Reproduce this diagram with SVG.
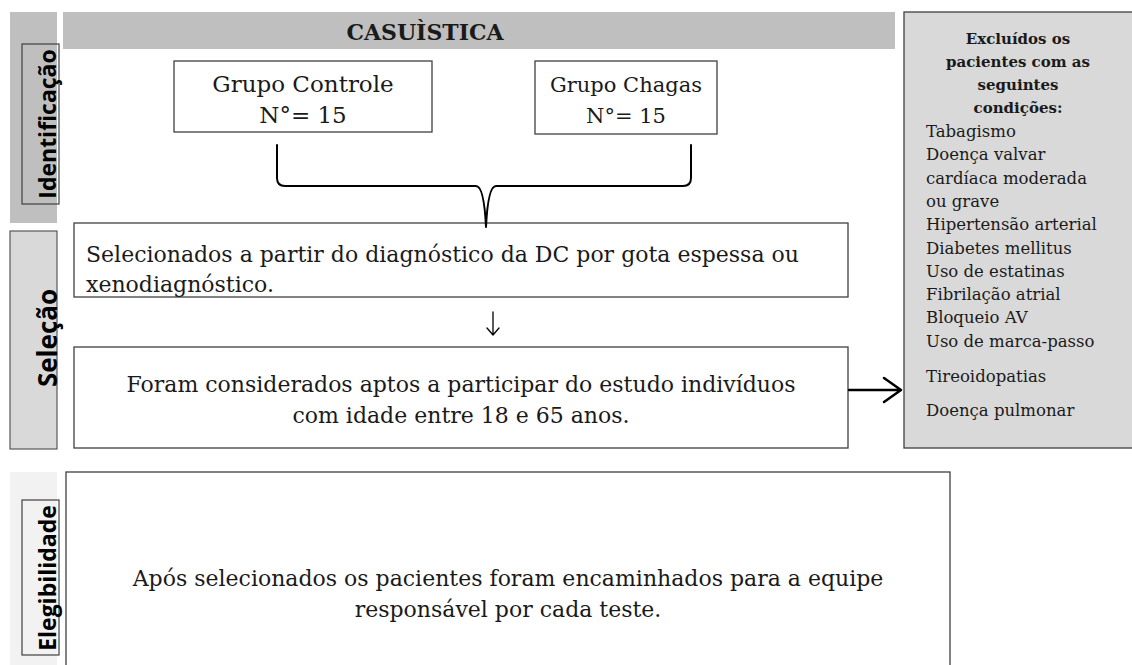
<svg xmlns="http://www.w3.org/2000/svg" width="1132" height="665" viewBox="0 0 1132 665">
<style>
.box{fill:#ffffff;stroke:#404040;stroke-width:1.3}
.t{font-family:"DejaVu Serif","Liberation Serif",serif;font-size:22px;fill:#1a1a1a}
.g{font-family:"DejaVu Serif","Liberation Serif",serif;font-size:23px;fill:#1a1a1a;text-anchor:middle}
.side{font-family:"Open Sans","DejaVu Sans",sans-serif;font-weight:bold;font-size:23px;fill:#000;text-anchor:middle}
.ex{font-family:"DejaVu Serif","Liberation Serif",serif;font-size:16.5px;fill:#1a1a1a}
.exb{font-family:"DejaVu Serif","Liberation Serif",serif;font-size:15px;font-weight:bold;fill:#1a1a1a;text-anchor:middle}
.frame{fill:none;stroke:#404040;stroke-width:1.2}
.con{fill:none;stroke:#000;stroke-linecap:round;stroke-linejoin:round}
</style>
<rect width="1132" height="665" fill="#ffffff"/>

<g id="lane-identificacao">
<rect x="10" y="12" width="47" height="211" fill="#bfbfbf"/>
<rect class="frame" x="22" y="44" width="37" height="160"/>
<text class="side" transform="translate(56,124) rotate(-90)">Identificação</text>
</g>

<g id="lane-selecao">
<rect x="10" y="231" width="47" height="218" fill="#d9d9d9" stroke="#595959" stroke-width="1.2"/>
<text class="side" style="font-size:26px" transform="translate(57,338) rotate(-90)">Seleção</text>
</g>

<g id="lane-elegibilidade">
<rect x="10" y="472" width="47" height="193" fill="#f2f2f2"/>
<rect class="frame" x="22" y="500" width="37" height="155"/>
<text class="side" transform="translate(56,578) rotate(-90)">Elegibilidade</text>
</g>

<g id="header">
<rect x="63" y="12" width="832" height="37" fill="#bfbfbf"/>
<text x="425" y="40" style="font-family:'DejaVu Serif','Liberation Serif',serif;font-weight:bold;font-size:22px;fill:#1a1a1a;text-anchor:middle">CASUÌSTICA</text>
</g>

<g id="grupo-controle">
<rect class="box" x="174" y="61" width="258" height="71"/>
<text class="g" x="303" y="92">Grupo Controle</text>
<text class="g" x="303" y="123">N°= 15</text>
</g>

<g id="grupo-chagas">
<rect class="box" x="535" y="61" width="182" height="73"/>
<text class="g" style="font-size:21px" x="626" y="92">Grupo Chagas</text>
<text class="g" style="font-size:21px" x="626" y="123">N°= 15</text>
</g>

<g id="selecionados">
<rect class="box" x="74" y="223" width="774" height="74"/>
<text class="t" x="86" y="262">Selecionados a partir do diagnóstico da DC por gota espessa ou</text>
<text class="t" x="86" y="292">xenodiagnóstico.</text>
</g>

<g id="aptos">
<rect class="box" x="74" y="347" width="774" height="101"/>
<text class="t" x="461" y="392" text-anchor="middle">Foram considerados aptos a participar do estudo indivíduos</text>
<text class="t" x="461" y="423" text-anchor="middle">com idade entre 18 e 65 anos.</text>
</g>

<g id="excluidos">
<rect x="904" y="12" width="240" height="436" fill="#d9d9d9" stroke="#404040" stroke-width="1.3"/>
<text class="exb" x="1018" y="44">Excluídos os</text>
<text class="exb" x="1018" y="67">pacientes com as</text>
<text class="exb" x="1018" y="90">seguintes</text>
<text class="exb" x="1018" y="113">condições:</text>
<text class="ex" x="926" y="137">Tabagismo</text>
<text class="ex" x="926" y="160">Doença valvar</text>
<text class="ex" x="926" y="184">cardíaca moderada</text>
<text class="ex" x="926" y="207">ou grave</text>
<text class="ex" x="926" y="230">Hipertensão arterial</text>
<text class="ex" x="926" y="254">Diabetes mellitus</text>
<text class="ex" x="926" y="277">Uso de estatinas</text>
<text class="ex" x="926" y="300">Fibrilação atrial</text>
<text class="ex" x="926" y="323">Bloqueio  AV</text>
<text class="ex" x="926" y="347">Uso de marca-passo</text>
<text class="ex" x="926" y="382">Tireoidopatias</text>
<text class="ex" x="926" y="416">Doença pulmonar</text>
</g>

<g id="elegibilidade-box">
<rect class="box" x="66" y="472" width="884" height="200"/>
<text class="t" x="508" y="586" text-anchor="middle">Após selecionados os pacientes foram encaminhados para a equipe</text>
<text class="t" x="508" y="617" text-anchor="middle">responsável por cada teste.</text>
</g>

<g id="connectors">
<path class="con" stroke-width="2" d="M277,145 L277,178 Q277,186 285,186 L476,186 Q484,186 486,227 Q488,186 496,186 L683,186 Q691,186 691,178 L691,145"/>
<path class="con" stroke-width="1.3" d="M493,312 L493,335 M487,328 L493,335 L499,328"/>
<path class="con" stroke-width="2.5" d="M849,390 L900,390 M884,378 L901,390 L884,402"/>
</g>
</svg>
